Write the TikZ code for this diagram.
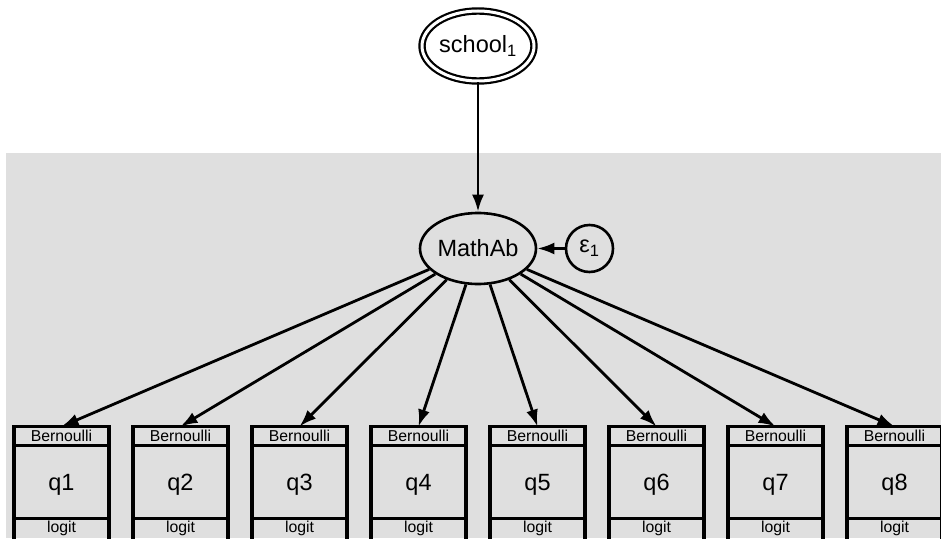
\documentclass[tikz,border=0pt]{standalone}
\usepackage{fontspec}
\setmainfont{Liberation Sans}
\usetikzlibrary{shapes.geometric,arrows.meta}
\definecolor{bggray}{RGB}{223,223,223}
\begin{document}
\begin{tikzpicture}[x=1pt,y=-1pt,
  qbox/.style={draw,line width=3.2pt,minimum width=95pt,minimum height=116pt,inner sep=0pt,outer sep=0pt},
  lat/.style={draw,ellipse,line width=2.6pt,minimum width=116pt,minimum height=71pt,inner sep=0pt,font=\fontsize{23.5}{26}\selectfont},
  errc/.style={draw,circle,line width=2.6pt,minimum size=47pt,inner sep=0pt,font=\fontsize{23.5}{26}\selectfont},
  path/.style={line width=2.8pt,-{Latex[length=17pt,width=12pt]}},
  smalltxt/.style={font=\fontsize{15.8}{17}\selectfont,inner sep=0pt},
  bigtxt/.style={font=\fontsize{23.5}{26}\selectfont,inner sep=0pt}]
\useasboundingbox (0,0) rectangle (941,538);
\clip (0,0) rectangle (941,538);
\fill[white] (0,0) rectangle (941,538);
\fill[bggray] (6,153) rectangle (941,538);
% school
\node[draw,ellipse,line width=2.2pt,double distance=3pt,minimum width=112pt,minimum height=70pt,inner sep=0pt,font=\fontsize{23.5}{26}\selectfont] (S) at (478,46) {school\textsubscript{1}};
\node[lat] (M) at (478,248.5) {MathAb};
\node[errc] (E) at (589.5,248.5) {ε\textsubscript{1}};
\draw[path] (S) -- (M);
\draw[path] (E) -- (M);
\foreach \i in {1,...,8}{
  \pgfmathsetmacro{\cx}{61.5+(\i-1)*119}
  \node[qbox] (b\i) at (\cx,484.5) {};
  \draw[line width=3pt] ([yshift=-18.5pt]b\i.north west) -- ([yshift=-18.5pt]b\i.north east);
  \draw[line width=3pt] ([yshift=-92pt]b\i.north west) -- ([yshift=-92pt]b\i.north east);
  \node[smalltxt] (bt\i) at ([yshift=-9.5pt]b\i.north) {Bernoulli};
  \node[bigtxt] (qt\i) at ([yshift=-58pt]b\i.north) {q\i};
  \node[smalltxt] (lt\i) at ([yshift=-102pt]b\i.north) {logit};
  \draw[path] (M) -- (b\i.north);
}
\end{tikzpicture}
\end{document}
